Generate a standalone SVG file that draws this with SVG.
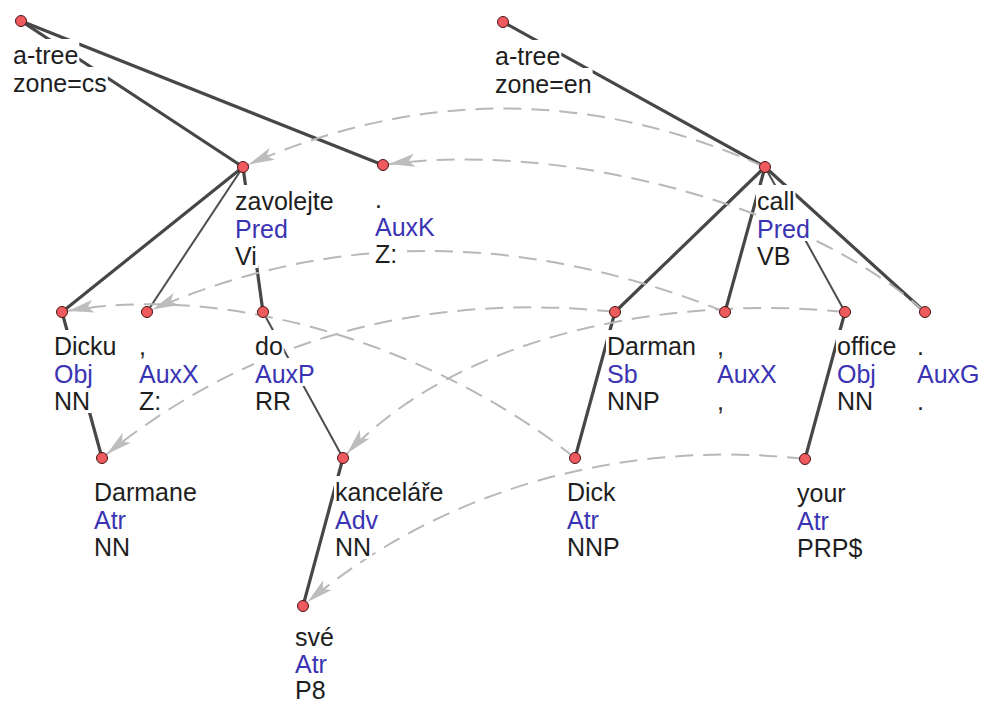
<svg xmlns="http://www.w3.org/2000/svg" width="984" height="706" viewBox="0 0 984 706">
<style>
.e{stroke:#474747;stroke-width:3.2;fill:none;stroke-linecap:round}
.et{stroke:#4d4d4d;stroke-width:2;fill:none;stroke-linecap:round}
.a{stroke:#b8b8b8;stroke-width:2;fill:none;stroke-dasharray:18 10;marker-end:url(#arr)}
.bg{fill:#fff}
text{font-family:"Liberation Sans",Arial,sans-serif;font-size:25px;fill:#1e1e1e}
.f{fill:#3a33b3}
.n{fill:#ef5a5e;stroke:#4a1515;stroke-width:1}
</style>
<defs>
<marker id="arr" markerUnits="userSpaceOnUse" orient="auto" refX="0" refY="0" markerWidth="40" markerHeight="20" overflow="visible">
<path d="M-6,0 L-32,-6.5 L-26,0 L-32,6.5 Z" fill="#bdbdbd"/>
</marker>
</defs>
<rect width="984" height="706" fill="#fff"/>
<g id="connectors">
<line class="e" x1="21" y1="21" x2="243" y2="167"/>
<line class="e" x1="21" y1="21" x2="383" y2="165"/>
<line class="e" x1="243" y1="167" x2="62" y2="312"/>
<line class="et" x1="243" y1="167" x2="147" y2="312"/>
<line class="e" x1="243" y1="167" x2="263" y2="312"/>
<line class="e" x1="62" y1="312" x2="102" y2="458"/>
<line class="et" x1="263" y1="312" x2="343" y2="458"/>
<line class="e" x1="343" y1="458" x2="303" y2="606"/>
<line class="e" x1="503" y1="22" x2="765" y2="167"/>
<line class="e" x1="765" y1="167" x2="615" y2="312"/>
<line class="e" x1="765" y1="167" x2="725" y2="312"/>
<line class="et" x1="765" y1="167" x2="845" y2="312"/>
<line class="e" x1="765" y1="167" x2="925" y2="312"/>
<line class="e" x1="615" y1="312" x2="575" y2="458"/>
<line class="e" x1="845" y1="312" x2="805" y2="459"/>
<path class="a" d="M765,167 Q503,50 243,167"/>
<path class="a" d="M925,312 C800,200 550,140 383,165"/>
<path class="a" d="M725,312 Q420,190 147,312"/>
<path class="a" d="M575,458 C440,350 230,280 62,312"/>
<path class="a" d="M615,312 C460,295 270,320 102,458"/>
<path class="a" d="M845,312 C680,295 460,330 343,458"/>
<path class="a" d="M805,459 C640,440 450,480 303,606"/>
</g>
<g id="cs_root">
<rect class="bg" x="12" y="39" width="67.3" height="28"/><rect class="bg" x="12" y="67" width="95.8" height="28"/>
<text x="13" y="64">a-tree</text><text x="13" y="92">zone=cs</text>
<circle class="n" cx="21" cy="21" r="5.5"/>
</g>
<g id="zavolejte">
<rect class="bg" x="234" y="185" width="100.7" height="28"/><rect class="bg" x="234" y="213" width="54.8" height="28"/><rect class="bg" x="234" y="240" width="24.2" height="28"/>
<text x="235" y="210">zavolejte</text><text class="f" x="235" y="238">Pred</text><text x="235" y="265">Vi</text>
<circle class="n" cx="243" cy="167" r="5.5"/>
</g>
<g id="auxk">
<rect class="bg" x="374" y="183" width="9" height="28"/><rect class="bg" x="374" y="211" width="61.8" height="28"/><rect class="bg" x="374" y="238" width="24.2" height="28"/>
<text x="375" y="208">.</text><text class="f" x="375" y="236">AuxK</text><text x="375" y="263">Z:</text>
<circle class="n" cx="383" cy="165" r="5.5"/>
</g>
<g id="dicku">
<rect class="bg" x="53" y="330" width="64.5" height="28"/><rect class="bg" x="53" y="358" width="40.9" height="28"/><rect class="bg" x="53" y="385" width="38.1" height="28"/>
<text x="54" y="355">Dicku</text><text class="f" x="54" y="383">Obj</text><text x="54" y="410">NN</text>
<circle class="n" cx="62" cy="312" r="5.5"/>
</g>
<g id="cs_comma">
<rect class="bg" x="138" y="330" width="9" height="28"/><rect class="bg" x="138" y="358" width="61.8" height="28"/><rect class="bg" x="138" y="385" width="24.2" height="28"/>
<text x="139" y="355">,</text><text class="f" x="139" y="383">AuxX</text><text x="139" y="410">Z:</text>
<circle class="n" cx="147" cy="312" r="5.5"/>
</g>
<g id="do">
<rect class="bg" x="254" y="330" width="29.8" height="28"/><rect class="bg" x="254" y="358" width="61.8" height="28"/><rect class="bg" x="254" y="385" width="38.1" height="28"/>
<text x="255" y="355">do</text><text class="f" x="255" y="383">AuxP</text><text x="255" y="410">RR</text>
<circle class="n" cx="263" cy="312" r="5.5"/>
</g>
<g id="darmane">
<rect class="bg" x="93" y="476" width="104.8" height="28"/><rect class="bg" x="93" y="504" width="34" height="28"/><rect class="bg" x="93" y="531" width="38.1" height="28"/>
<text x="94" y="501">Darmane</text><text class="f" x="94" y="529">Atr</text><text x="94" y="556">NN</text>
<circle class="n" cx="102" cy="458" r="5.5"/>
</g>
<g id="kancelare">
<rect class="bg" x="334" y="476" width="110.4" height="28"/><rect class="bg" x="334" y="504" width="45.1" height="28"/><rect class="bg" x="334" y="531" width="38.1" height="28"/>
<text x="335" y="501">kanceláře</text><text class="f" x="335" y="529">Adv</text><text x="335" y="556">NN</text>
<circle class="n" cx="343" cy="458" r="5.5"/>
</g>
<g id="sve">
<rect class="bg" x="294" y="622" width="40.9" height="28"/><rect class="bg" x="294" y="650" width="34" height="27"/><rect class="bg" x="294" y="677" width="32.6" height="27"/>
<text x="295" y="646">své</text><text class="f" x="295" y="673">Atr</text><text x="295" y="699">P8</text>
<circle class="n" cx="303" cy="606" r="5.5"/>
</g>
<g id="en_root">
<rect class="bg" x="494" y="40" width="67.3" height="28"/><rect class="bg" x="494" y="68" width="98.6" height="28"/>
<text x="495" y="65">a-tree</text><text x="495" y="93">zone=en</text>
<circle class="n" cx="503" cy="22" r="5.5"/>
</g>
<g id="call">
<rect class="bg" x="756" y="185" width="39.5" height="28"/><rect class="bg" x="756" y="213" width="54.8" height="28"/><rect class="bg" x="756" y="240" width="35.4" height="28"/>
<text x="757" y="210">call</text><text class="f" x="757" y="238">Pred</text><text x="757" y="265">VB</text>
<circle class="n" cx="765" cy="167" r="5.5"/>
</g>
<g id="darman">
<rect class="bg" x="606" y="330" width="90.9" height="28"/><rect class="bg" x="606" y="358" width="32.6" height="28"/><rect class="bg" x="606" y="385" width="54.8" height="28"/>
<text x="607" y="355">Darman</text><text class="f" x="607" y="383">Sb</text><text x="607" y="410">NNP</text>
<circle class="n" cx="615" cy="312" r="5.5"/>
</g>
<g id="en_comma">
<rect class="bg" x="716" y="330" width="9" height="28"/><rect class="bg" x="716" y="358" width="61.8" height="28"/><rect class="bg" x="716" y="385" width="9" height="28"/>
<text x="717" y="355">,</text><text class="f" x="717" y="383">AuxX</text><text x="717" y="410">,</text>
<circle class="n" cx="725" cy="312" r="5.5"/>
</g>
<g id="office">
<rect class="bg" x="836" y="330" width="61.8" height="28"/><rect class="bg" x="836" y="358" width="40.9" height="28"/><rect class="bg" x="836" y="385" width="38.1" height="28"/>
<text x="837" y="355">office</text><text class="f" x="837" y="383">Obj</text><text x="837" y="410">NN</text>
<circle class="n" cx="845" cy="312" r="5.5"/>
</g>
<g id="auxg">
<rect class="bg" x="916" y="330" width="9" height="28"/><rect class="bg" x="916" y="358" width="64.5" height="28"/><rect class="bg" x="916" y="385" width="9" height="28"/>
<text x="917" y="355">.</text><text class="f" x="917" y="383">AuxG</text><text x="917" y="410">.</text>
<circle class="n" cx="925" cy="312" r="5.5"/>
</g>
<g id="dick">
<rect class="bg" x="566" y="476" width="50.6" height="28"/><rect class="bg" x="566" y="504" width="34" height="28"/><rect class="bg" x="566" y="531" width="54.8" height="28"/>
<text x="567" y="501">Dick</text><text class="f" x="567" y="529">Atr</text><text x="567" y="556">NNP</text>
<circle class="n" cx="575" cy="458" r="5.5"/>
</g>
<g id="your">
<rect class="bg" x="796" y="477" width="50.6" height="28"/><rect class="bg" x="796" y="505" width="34" height="28"/><rect class="bg" x="796" y="532" width="67.3" height="28"/>
<text x="797" y="502">your</text><text class="f" x="797" y="530">Atr</text><text x="797" y="557">PRP$</text>
<circle class="n" cx="805" cy="459" r="5.5"/>
</g>
</svg>
